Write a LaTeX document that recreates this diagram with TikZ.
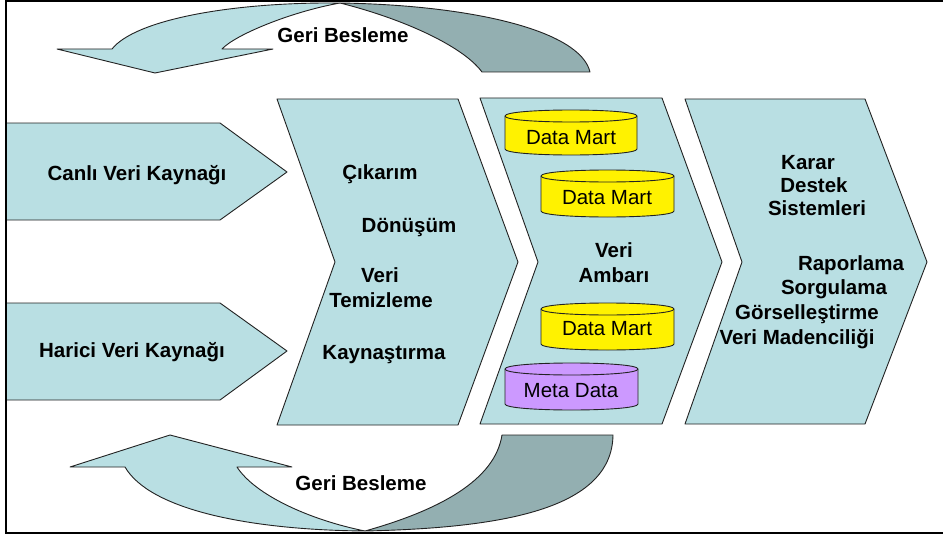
\documentclass[tikz,border=0pt]{standalone}
\usepackage{fontspec}
\setmainfont{Liberation Sans}
\definecolor{lightc}{HTML}{B9DFE3}
\definecolor{darkc}{HTML}{93AFB1}
\definecolor{metac}{HTML}{CC99FF}
\definecolor{edgec}{HTML}{222222}
\tikzset{
  band/.style={draw=edgec, line width=0.9pt, fill=lightc, line join=round},
  darkband/.style={draw=edgec, line width=0.9pt, fill=darkc, line join=round},
  dmcyl/.style={draw=edgec, line width=0.9pt, fill=yellow},
  metacyl/.style={draw=edgec, line width=0.9pt, fill=metac},
  lbl/.style={font=\bfseries\fontsize{20.5}{24}\selectfont, anchor=base, inner sep=0pt},
  dblbl/.style={font=\fontsize{20.5}{24}\selectfont, anchor=base, inner sep=0pt},
  frame/.style={draw=black, line width=2pt}
}
\begin{document}
\begin{tikzpicture}[x=1pt,y=-1pt]
\useasboundingbox (0,0) rectangle (943,535);
\fill[white] (0,0) rectangle (943,535);
% frame
\draw[frame] (960,1) -- (6,1) -- (6,533) -- (960,533);

% top feedback arrow
\draw[darkband] (340,3) .. controls (470,5) and (580,30) .. (590,72)
  -- (482,72) .. controls (462,45) and (400,18) .. (340,3) -- cycle;
\draw[band] (112,49) .. controls (135,20) and (230,2) .. (340,3)
  .. controls (290,12) and (235,35) .. (222,49)
  -- (273,49) -- (155,73) -- (57,49) -- cycle;
\node[lbl] (fbtop) at (343,43) {Geri Besleme};

% bottom feedback arrow
\draw[darkband] (365,531) .. controls (440,510) and (495,480) .. (502,435)
  -- (613,435) .. controls (612,510) and (500,528) .. (365,531) -- cycle;
\draw[band] (125,467) .. controls (150,510) and (250,530) .. (365,531)
  .. controls (310,520) and (255,495) .. (237,467)
  -- (292,467) -- (170,435) -- (70,467) -- cycle;
\node[lbl] (fbbot) at (361,490) {Geri Besleme};

% source arrows
\draw[band] (7,123) -- (220,123) -- (287,172) -- (220,220) -- (7,220);
\draw[band] (7,303) -- (220,303) -- (287,351) -- (220,400) -- (7,400);
\node[lbl] (canli) at (137,180) {Canlı Veri Kaynağı};
\node[lbl] (harici) at (132,357) {Harici Veri Kaynağı};

% chevrons
\draw[band] (277,99) -- (458,99) -- (518,262) -- (458,425) -- (277,425) -- (335,262) -- cycle;
\draw[band] (480,98) -- (662,98) -- (722,262) -- (662,424) -- (480,424) -- (538,262) -- cycle;
\draw[band] (685,99) -- (865,99) -- (927,262) -- (865,424) -- (685,424) -- (742,262) -- cycle;

% chevron 1 texts
\node[lbl] (cikarim) at (380,179) {Çıkarım};
\node[lbl] (donusum) at (409,232) {Dönüşüm};
\node[lbl] (veri1) at (380,282) {Veri};
\node[lbl] (temiz) at (381,307) {Temizleme};
\node[lbl] (kaynas) at (384,359) {Kaynaştırma};

% cylinders
\draw[dmcyl] (505,116) -- (505,149) .. controls (505,157) and (637,157) .. (637,149)
  -- (637,116) .. controls (637,108) and (505,108) .. (505,116) -- cycle;
\draw[edgec, line width=0.9pt] (505,116) .. controls (505,124) and (637,124) .. (637,116);
\draw[dmcyl] (541,176) -- (541,211) .. controls (541,219) and (674,219) .. (674,211)
  -- (674,176) .. controls (674,168) and (541,168) .. (541,176) -- cycle;
\draw[edgec, line width=0.9pt] (541,176) .. controls (541,184) and (674,184) .. (674,176);
\draw[dmcyl] (541,309) -- (541,344) .. controls (541,352) and (674,352) .. (674,344)
  -- (674,309) .. controls (674,301) and (541,301) .. (541,309) -- cycle;
\draw[edgec, line width=0.9pt] (541,309) .. controls (541,317) and (674,317) .. (674,309);
\draw[metacyl] (505,369) -- (505,404) .. controls (505,412) and (638,412) .. (638,404)
  -- (638,369) .. controls (638,361) and (505,361) .. (505,369) -- cycle;
\draw[edgec, line width=0.9pt] (505,369) .. controls (505,377) and (638,377) .. (638,369);
\node[dblbl] (dm1) at (571,144) {Data Mart};
\node[dblbl] (dm2) at (607,204) {Data Mart};
\node[dblbl] (dm3) at (607,335) {Data Mart};
\node[dblbl] (meta) at (571,397) {Meta Data};
\node[lbl] (veri2) at (614,257) {Veri};
\node[lbl] (ambari) at (614,282) {Ambarı};

% chevron 3 texts
\node[lbl] (karar) at (808,169) {Karar};
\node[lbl] (destek) at (814,192) {Destek};
\node[lbl] (sistem) at (817,215) {Sistemleri};
\node[lbl] (rapor) at (851,270) {Raporlama};
\node[lbl] (sorgu) at (834,294) {Sorgulama};
\node[lbl] (gorsel) at (807,319) {Görselleştirme};
\node[lbl] (maden) at (797,344) {Veri Madenciliği};
\end{tikzpicture}
\end{document}
